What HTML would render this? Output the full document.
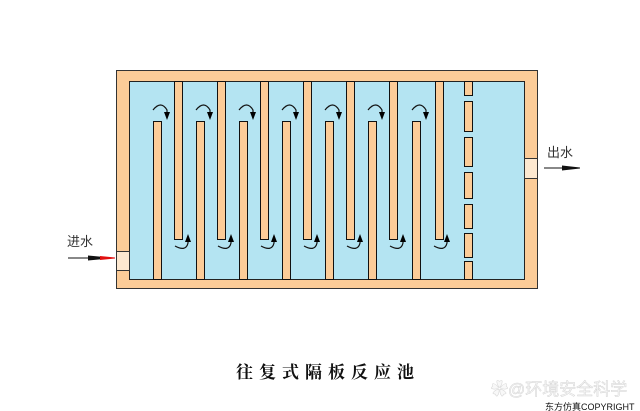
<!DOCTYPE html>
<html><head><meta charset="utf-8"><style>
html,body{margin:0;padding:0;background:#fff;width:640px;height:411px;overflow:hidden}
</style></head><body>
<svg width="640" height="411" viewBox="0 0 640 411" xmlns="http://www.w3.org/2000/svg" font-family="Liberation Sans, Noto Sans CJK SC, sans-serif">
<defs>
<marker id="ah" markerWidth="8" markerHeight="6" refX="2" refY="3" orient="auto" markerUnits="userSpaceOnUse" viewBox="0 0 8 6">
<path d="M0,0 L8,3 L0,6 Z" fill="#000"/>
</marker>
</defs>
<rect x="116.5" y="70.5" width="421" height="218" fill="#fccc98" stroke="#333" stroke-width="1"/>
<rect x="129.5" y="81.5" width="395" height="198" fill="#b4e4f2" stroke="#222" stroke-width="1"/>
<rect x="116.5" y="251.5" width="13" height="19" fill="#fde8d0" stroke="#333"/>
<rect x="524.5" y="158.5" width="13" height="20" fill="#fde8d0" stroke="#333"/>
<g fill="#fccc98" stroke="#111" stroke-width="1">
<rect x="153.5" y="121.5" width="8" height="158"/>
<rect x="196.5" y="121.5" width="8" height="158"/>
<rect x="239.5" y="121.5" width="8" height="158"/>
<rect x="282.5" y="121.5" width="8" height="158"/>
<rect x="325.5" y="121.5" width="8" height="158"/>
<rect x="368.5" y="121.5" width="8" height="158"/>
<rect x="412.5" y="121.5" width="8" height="158"/>
<rect x="174.5" y="81.5" width="8" height="158"/>
<rect x="217.5" y="81.5" width="8" height="158"/>
<rect x="260.5" y="81.5" width="8" height="158"/>
<rect x="303.5" y="81.5" width="8" height="158"/>
<rect x="346.5" y="81.5" width="8" height="158"/>
<rect x="389.5" y="81.5" width="8" height="158"/>
<rect x="435.5" y="81.5" width="8" height="158"/>
<rect x="464.5" y="81.5" width="8" height="14"/>
<rect x="464.5" y="101.5" width="8" height="30"/>
<rect x="464.5" y="137.5" width="8" height="29"/>
<rect x="464.5" y="172.5" width="8" height="26"/>
<rect x="464.5" y="204.5" width="8" height="24"/>
<rect x="464.5" y="233.5" width="8" height="24"/>
<rect x="464.5" y="261.5" width="8" height="18"/>
</g>
<g fill="none" stroke="#111" stroke-width="1.2">
<path d="M153,110 Q161,100 167,110 L167,114" marker-end="url(#ah)"/>
<path d="M196,110 Q204,100 210,110 L210,114" marker-end="url(#ah)"/>
<path d="M239,110 Q247,100 253,110 L253,114" marker-end="url(#ah)"/>
<path d="M282,110 Q290,100 296,110 L296,114" marker-end="url(#ah)"/>
<path d="M325,110 Q333,100 339,110 L339,114" marker-end="url(#ah)"/>
<path d="M368,110 Q376,100 382,110 L382,114" marker-end="url(#ah)"/>
<path d="M412,110 Q420,100 426,110 L426,114" marker-end="url(#ah)"/>
<path d="M175,246 Q186,252 188,243 L188,240" marker-end="url(#ah)"/>
<path d="M218,246 Q229,252 231,243 L231,240" marker-end="url(#ah)"/>
<path d="M261,246 Q272,252 274,243 L274,240" marker-end="url(#ah)"/>
<path d="M304,246 Q315,252 317,243 L317,240" marker-end="url(#ah)"/>
<path d="M347,246 Q358,252 360,243 L360,240" marker-end="url(#ah)"/>
<path d="M390,246 Q401,252 403,243 L403,240" marker-end="url(#ah)"/>
<path d="M434,246 Q445,252 447,243 L447,240" marker-end="url(#ah)"/>
</g>
<line x1="68" y1="258" x2="90" y2="258" stroke="#111" stroke-width="1"/>
<path d="M88,255.5 L104,257 L104,259 L88,260.5 Z" fill="#111"/>
<path d="M100,256 L115,257.5 L115,258.5 L100,260 Z" fill="#e01010"/>
<text x="67" y="246" font-size="13" fill="#333">进水</text>
<line x1="544" y1="168" x2="566" y2="168" stroke="#111" stroke-width="1"/>
<path d="M562,165.5 L580,167.5 L580,168.5 L562,170.5 Z" fill="#111"/>
<text x="547" y="157" font-size="13" fill="#333">出水</text>
<text x="236" y="378" font-size="17" font-weight="bold" fill="#111" letter-spacing="6" font-family="Noto Serif CJK SC, serif">往复式隔板反应池</text>
<text x="491" y="395" font-size="17" fill="#f8f8f8" stroke="#d4d4d4" stroke-width="0.5">✿@环境安全科学</text>
<text x="545" y="410" font-size="9" fill="#111">东方仿真COPYRIGHT</text>
</svg>
</body></html>
